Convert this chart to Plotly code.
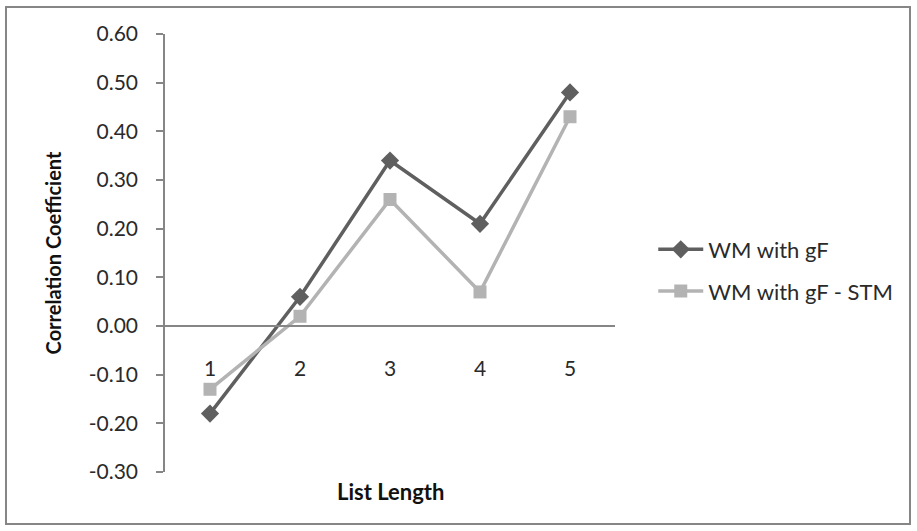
import plotly.graph_objects as go

categories = ["1", "2", "3", "4", "5"]
wm_gf = [-0.18, 0.06, 0.34, 0.21, 0.48]
wm_gf_stm = [-0.13, 0.02, 0.26, 0.07, 0.43]
series_names = ["WM with gF", "WM with gF - STM"]
y_tick_vals = [-0.3, -0.2, -0.1, 0.0, 0.1, 0.2, 0.3, 0.4, 0.5, 0.6]
y_tick_text = ["-0.30", "-0.20", "-0.10", "0.00", "0.10", "0.20", "0.30", "0.40", "0.50", "0.60"]
y_title = "Correlation Coefficient"
x_title = "List Length"

FONT = "Lato"
AX = "#868686"
TXT = "#2a2a2a"

fig = go.Figure()
fig.add_trace(go.Scatter(
    x=categories, y=wm_gf, name=series_names[0], mode="lines+markers",
    line=dict(color="#5f5f5f", width=3.5),
    marker=dict(symbol="diamond", size=14, color="#5f5f5f"),
    legendgroup="a",
))
fig.add_trace(go.Scatter(
    x=categories, y=wm_gf_stm, name=series_names[1], mode="lines+markers",
    line=dict(color="#b3b3b3", width=3.5),
    marker=dict(symbol="square", size=13, color="#b3b3b3"),
    legendgroup="b",
))

fig.update_layout(
    width=917, height=531,
    margin=dict(l=165, r=302, t=34, b=59),
    paper_bgcolor="white", plot_bgcolor="white",
    font=dict(family=FONT, size=21, color=TXT),
    showlegend=True,
    legend=dict(x=1.085, y=0.46, xanchor="left", yanchor="middle",
                font=dict(family=FONT, size=22, color=TXT),
                tracegroupgap=10, itemwidth=45, bgcolor="rgba(0,0,0,0)"),
    xaxis=dict(
        type="category", range=[-0.5, 4.5],
        anchor="free", position=1/3,
        showline=True, linecolor=AX, linewidth=1.5,
        ticks="", showgrid=False, zeroline=False,
        ticklabelstandoff=24,
        tickfont=dict(family=FONT, size=21, color=TXT),
    ),
    yaxis=dict(
        range=[-0.3, 0.6], tickmode="array", tickvals=y_tick_vals, ticktext=y_tick_text,
        showline=True, linecolor=AX, linewidth=1.5,
        ticks="outside", ticklen=7, tickcolor=AX, tickwidth=1.5,
        ticklabelstandoff=14,
        showgrid=False, zeroline=False,
        tickfont=dict(family=FONT, size=21, color=TXT),
        title=dict(text="<b>" + y_title + "</b>", font=dict(family=FONT, size=20, color="#111111"), standoff=22),
    ),
)

fig.add_annotation(
    text="<b>" + x_title + "</b>", xref="paper", yref="paper",
    x=0.5, y=(472 - 491) / 438, xanchor="center", yanchor="middle",
    showarrow=False, font=dict(family=FONT, size=22, color="#111111"),
)

fig.add_shape(
    type="rect", xref="paper", yref="paper",
    x0=(6 - 165) / 450, x1=(910 - 165) / 450,
    y0=(472 - 524) / 438, y1=(472 - 7) / 438,
    line=dict(color=AX, width=2), fillcolor="rgba(0,0,0,0)", layer="below",
)

fig.write_html("out.html")
